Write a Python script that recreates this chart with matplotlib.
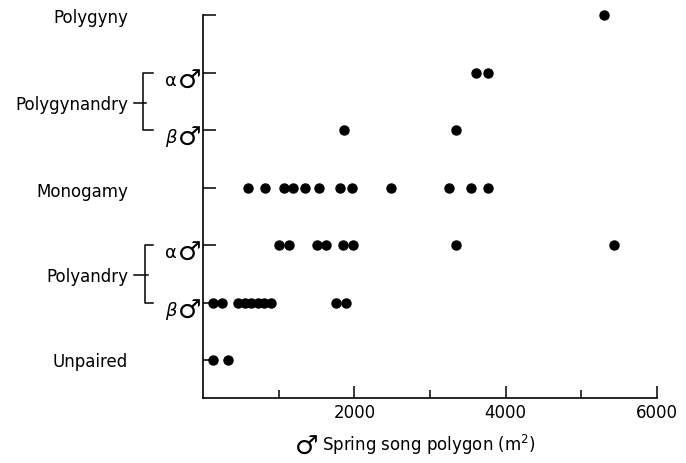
import matplotlib.pyplot as plt
import matplotlib.transforms as mtransforms
from matplotlib.lines import Line2D

# mating status levels (bottom to top)
levels = ['Unpaired', 'Polyandry beta', 'Polyandry alpha', 'Monogamy',
          'Polygynandry beta', 'Polygynandry alpha', 'Polygyny']

# spring song polygon area (m2) of males at each level
unpaired = [135, 335]
polyandry_beta = [137, 245, 467, 553, 639, 725, 811, 896, 1757, 1890]
polyandry_alpha = [1007, 1130, 1506, 1629, 1850, 1983, 3338, 5435]
monogamy = [592, 821, 1064, 1188, 1342, 1536, 1805, 1970, 2486, 3249, 3536, 3766]
polygynandry_beta = [1858, 3338]
polygynandry_alpha = [3612, 3766]
polygyny = [5298]

groups = [unpaired, polyandry_beta, polyandry_alpha, monogamy,
          polygynandry_beta, polygynandry_alpha, polygyny]

x_major = [2000, 4000, 6000]
x_minor = [1000, 3000, 5000]

W, H = 686, 463
fig = plt.figure(figsize=(W / 100, H / 100), dpi=100)
ax = fig.add_axes([203 / W, 1 - 398 / H, 454 / W, 383 / H])

for lev, xs in enumerate(groups):
    ax.plot(xs, [lev] * len(xs), 'o', color='black', markersize=6.5, clip_on=False)

ax.set_xlim(0, 6000)
ax.set_ylim(-0.66, 6)
ax.spines['top'].set_visible(False)
ax.spines['right'].set_visible(False)
for s in ['left', 'bottom']:
    ax.spines[s].set_linewidth(1.2)

ax.set_yticks(range(len(levels)))
ax.tick_params(axis='y', direction='in', length=9.5, width=1.1, labelleft=False)
ax.set_xticks(x_major)
ax.set_xticks(x_minor, minor=True)
ax.tick_params(axis='x', which='major', direction='in', length=9, width=1.1,
               labelsize=12, pad=4)
ax.tick_params(axis='x', which='minor', direction='in', length=6, width=1.1)

# left side labels: x in figure pixels, y in data
tr = mtransforms.blended_transform_factory(fig.transFigure, ax.transData)

def fx(px):
    return px / W

names = [('Polygyny', 5.95), ('Polygynandry', 4.43), ('Monogamy', 2.92),
         ('Polyandry', 1.44), ('Unpaired', -0.04)]
for name, y in names:
    ax.text(fx(128), y, name, transform=tr, ha='right', va='center',
            fontsize=12, clip_on=False)

# brackets
def bracket(x_vert, y_top, y_bot, y_mid):
    ln = dict(transform=tr, color='black', lw=1.1, clip_on=False)
    fig.add_artist(Line2D([fx(153), fx(x_vert), fx(x_vert), fx(153)],
                          [y_top, y_top, y_bot, y_bot], **ln))
    fig.add_artist(Line2D([fx(134), fx(x_vert + 3)], [y_mid, y_mid], **ln))

bracket(143, 5, 4, 4.47)
bracket(145, 2, 1, 1.48)

male = dict(family=['DejaVu Sans'], fontsize=19)

# alpha / beta male labels
for lev, greek in [(5, 'α'), (4, 'β'), (2, 'α'), (1, 'β')]:
    style = 'italic' if greek == 'β' else 'normal'
    ax.text(fx(177), lev - 0.23, greek, transform=tr, ha='right', va='baseline',
            fontsize=13, style=style, clip_on=False)
    ax.text(fx(202), lev - 0.28, '♂', transform=tr, ha='right', va='baseline',
            clip_on=False, **male)

# x axis label
fig.text(fx(319), 1 - 455 / H, '♂', ha='right', va='baseline', **male)
fig.text(fx(322), 1 - 445 / H, 'Spring song polygon (m$^2$)', ha='left',
         va='center', fontsize=12)

fig.savefig('out.png', dpi=100)
